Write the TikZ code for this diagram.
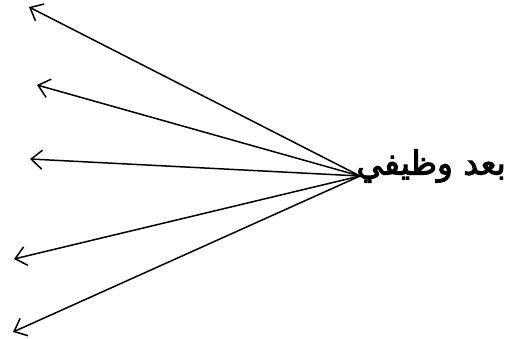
\documentclass[tikz,border=0pt]{standalone}
\usepackage{fontspec}
\usetikzlibrary{arrows.meta}
\TeXXeTstate=1
\newfontfamily\arabicfont[Script=Arabic,FakeBold=3]{DejaVu Sans}
\begin{document}
\begin{tikzpicture}[x=1pt,y=1pt,
  arr/.style={line width=1.5pt,-{Straight Barb[length=11pt,width=19pt,line width=1.5pt]}}]
\useasboundingbox (0,0) rectangle (522,338);
\node[anchor=east,inner sep=0pt,font=\arabicfont\fontsize{33}{36}\selectfont] (t) at (506,172) {\beginR بعد وظيفي\endR};
\coordinate (c) at (360,162);
\coordinate (e1) at (29,331);
\coordinate (e2) at (37,253);
\coordinate (e3) at (30,179);
\coordinate (e4) at (14,79);
\coordinate (e5) at (13,6);
\foreach \e in {e1,e2,e3,e4,e5} \draw[arr] (c) -- (\e);
\end{tikzpicture}
\end{document}
